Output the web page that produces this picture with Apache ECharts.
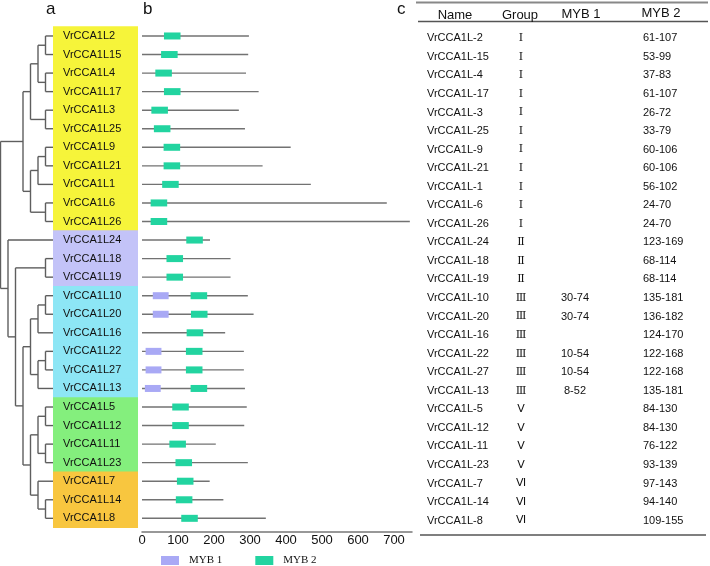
<!DOCTYPE html>
<html><head><meta charset="utf-8">
<script src="https://cdn.jsdelivr.net/npm/echarts@6/dist/echarts.min.js"></script>
<style>html,body{margin:0;padding:0;background:#fff}#c{width:710px;height:566px}</style>
</head><body><div id="c"></div>
<script>
// ---------- data ----------
const names = ['VrCCA1L2','VrCCA1L15','VrCCA1L4','VrCCA1L17','VrCCA1L3','VrCCA1L25','VrCCA1L9','VrCCA1L21','VrCCA1L1','VrCCA1L6','VrCCA1L26','VrCCA1L24','VrCCA1L18','VrCCA1L19','VrCCA1L10','VrCCA1L20','VrCCA1L16','VrCCA1L22','VrCCA1L27','VrCCA1L13','VrCCA1L5','VrCCA1L12','VrCCA1L11','VrCCA1L23','VrCCA1L7','VrCCA1L14','VrCCA1L8'];
const tableNames = ['VrCCA1L-2','VrCCA1L-15','VrCCA1L-4','VrCCA1L-17','VrCCA1L-3','VrCCA1L-25','VrCCA1L-9','VrCCA1L-21','VrCCA1L-1','VrCCA1L-6','VrCCA1L-26','VrCCA1L-24','VrCCA1L-18','VrCCA1L-19','VrCCA1L-10','VrCCA1L-20','VrCCA1L-16','VrCCA1L-22','VrCCA1L-27','VrCCA1L-13','VrCCA1L-5','VrCCA1L-12','VrCCA1L-11','VrCCA1L-23','VrCCA1L-7','VrCCA1L-14','VrCCA1L-8'];
const groups = ['Ⅰ','Ⅰ','Ⅰ','Ⅰ','Ⅰ','Ⅰ','Ⅰ','Ⅰ','Ⅰ','Ⅰ','Ⅰ','Ⅱ','Ⅱ','Ⅱ','Ⅲ','Ⅲ','Ⅲ','Ⅲ','Ⅲ','Ⅲ','Ⅴ','Ⅴ','Ⅴ','Ⅴ','Ⅵ','Ⅵ','Ⅵ'];
const proteinLength = [297,295,289,324,269,286,413,335,469,680,744,189,246,246,294,310,231,283,283,286,291,284,205,294,188,226,344];
const myb1Start = [null,null,null,null,null,null,null,null,null,null,null,null,null,null,30,30,null,10,10,8,null,null,null,null,null,null,null];
const myb1End   = [null,null,null,null,null,null,null,null,null,null,null,null,null,null,74,74,null,54,54,52,null,null,null,null,null,null,null];
const myb2Start = [61,53,37,61,26,33,60,60,56,24,24,123,68,68,135,136,124,122,122,135,84,84,76,93,97,94,109];
const myb2End   = [107,99,83,107,72,79,106,106,102,70,70,169,114,114,181,182,170,168,168,181,130,130,122,139,143,140,155];
const axisTicks = [0,100,200,300,400,500,600,700];
const tableHeader = ['Name','Group','MYB 1','MYB 2'];
// dendrogram topology (lv = node depth level, leaves at level 7)
const tree = {lv:0, c:[
  {lv:3, c:[
    {lv:4, c:[
      {lv:5, c:[{lv:6,c:['VrCCA1L2','VrCCA1L15']},{lv:6,c:['VrCCA1L4','VrCCA1L17']}]},
      {lv:6, c:['VrCCA1L3','VrCCA1L25']}
    ]},
    {lv:4, c:[
      {lv:5, c:[{lv:6,c:['VrCCA1L9','VrCCA1L21']},'VrCCA1L1']},
      {lv:6, c:['VrCCA1L6','VrCCA1L26']}
    ]}
  ]},
  {lv:1, c:[
    'VrCCA1L24',
    {lv:2, c:[
      {lv:6, c:['VrCCA1L18','VrCCA1L19']},
      {lv:3, c:[
        {lv:4, c:[
          {lv:5, c:[{lv:6,c:['VrCCA1L10','VrCCA1L20']},'VrCCA1L16']},
          {lv:5, c:[{lv:6,c:['VrCCA1L22','VrCCA1L27']},'VrCCA1L13']}
        ]},
        {lv:4, c:[
          {lv:5, c:[{lv:6,c:['VrCCA1L5','VrCCA1L12']},{lv:6,c:['VrCCA1L11','VrCCA1L23']}]},
          {lv:5, c:['VrCCA1L7',{lv:6,c:['VrCCA1L14','VrCCA1L8']}]}
        ]}
      ]}
    ]}
  ]}
]};
const leafLevel = 7;

// ---------- styles ----------
const groupColors = {'Ⅰ':'#f6f43a','Ⅱ':'#c3c3f8','Ⅲ':'#8de6f5','Ⅴ':'#84ef7d','Ⅵ':'#f8c63f'};
const C_MYB1 = '#a9a9f5', C_MYB2 = '#22d4a0';
const TOP = 26.7, H = 500.9;
const SANS = "'Liberation Sans', Arial, sans-serif";

// ---------- dendrogram layout ----------
const segs = [];
function lay(n){
  if (typeof n === 'string') return {x: leafLevel, y: names.indexOf(n)};
  const k = n.c.map(lay);
  const y = (k[0].y + k[k.length-1].y)/2;
  segs.push([n.lv, k[0].y, n.lv, k[k.length-1].y]);
  k.forEach(ch => segs.push([n.lv, ch.y, ch.x, ch.y]));
  return {x: n.lv, y: y};
}
lay(tree);

const rows = names.map((n,i)=>i);
const chart = echarts.init(document.getElementById('c'));
const hiddenX = (gi, min, max) => ({type:'value', gridIndex:gi, min, max, show:false});
const catY = gi => ({type:'category', gridIndex:gi, data:names, inverse:true, show:false});

chart.setOption({
  animation:false,
  backgroundColor:'#fff',
  grid:[
    {left:0.5, top:TOP, width:52.5, height:H},
    {left:53, top:TOP, width:85, height:H},
    {left:142, top:TOP, width:270, height:H},
    {left:416, top:TOP, width:292, height:H}
  ],
  xAxis:[
    hiddenX(0,0,leafLevel),
    hiddenX(1,0,1),
    {type:'value', gridIndex:2, min:0, max:750, interval:100, offset:4,
     axisLine:{show:true, lineStyle:{color:'#777', width:1.5}},
     axisTick:{show:false}, splitLine:{show:false},
     axisLabel:{margin:2, fontSize:13, fontFamily:SANS, color:'#111',
       formatter: v => axisTicks.indexOf(v) >= 0 ? String(v) : ''}},
    hiddenX(3,0,1)
  ],
  yAxis:[
    {type:'value', gridIndex:0, min:-0.5, max:names.length-0.5, inverse:true, show:false},
    catY(1), catY(2), catY(3)
  ],
  legend:{data:['MYB 1','MYB 2'], left:161, top:555, padding:0, icon:'rect', itemWidth:18, itemHeight:9, itemGap:33,
    textStyle:{fontFamily:"'Liberation Serif', 'Times New Roman', serif", fontSize:11, color:'#111', padding:[0,0,0,5]}},
  graphic:[
    {type:'text', left:46, top:1, style:{text:'a', font:'17px '+SANS, fill:'#111'}},
    {type:'text', left:143, top:1, style:{text:'b', font:'17px '+SANS, fill:'#111'}},
    {type:'text', left:397, top:1, style:{text:'c', font:'17px '+SANS, fill:'#111'}},
    {type:'line', shape:{x1:416, y1:2.5, x2:708, y2:2.5}, style:{stroke:'#888', lineWidth:2}},
    {type:'line', shape:{x1:418, y1:21.5, x2:708, y2:21.5}, style:{stroke:'#555', lineWidth:1.5}},
    {type:'line', shape:{x1:420, y1:535, x2:706, y2:535}, style:{stroke:'#555', lineWidth:1.5}},
    {type:'text', x:455, y:15, style:{text:tableHeader[0], font:'13px '+SANS, fill:'#111', align:'center', verticalAlign:'middle'}},
    {type:'text', x:520, y:15, style:{text:tableHeader[1], font:'13px '+SANS, fill:'#111', align:'center', verticalAlign:'middle'}},
    {type:'text', x:581, y:14, style:{text:tableHeader[2], font:'13px '+SANS, fill:'#111', align:'center', verticalAlign:'middle'}},
    {type:'text', x:661, y:13, style:{text:tableHeader[3], font:'13px '+SANS, fill:'#111', align:'center', verticalAlign:'middle'}}
  ],
  series:[
    {type:'custom', name:'tree', xAxisIndex:0, yAxisIndex:0, data:segs, encode:{x:[0,2], y:[1,3]},
     renderItem:(p,api)=>{
       const a = api.coord([api.value(0), api.value(1)]);
       const b = api.coord([api.value(2), api.value(3)]);
       return {type:'line', shape:{x1:a[0], y1:a[1], x2:b[0], y2:b[1]}, style:{stroke:'#5e5e5e', lineWidth:1.4}};
     }},
    {type:'custom', name:'bands', xAxisIndex:1, yAxisIndex:1, data:rows.map(i=>[i]), encode:{y:0},
     renderItem:(p,api)=>{
       const i = api.value(0);
       const c = api.coord([0,i]);
       const h = api.size([0,1])[1];
       const cs = p.coordSys;
       return {type:'group', children:[
         {type:'rect', shape:{x:cs.x, y:c[1]-h/2-0.4, width:cs.width, height:h+0.8}, style:{fill:groupColors[groups[i]]}},
         {type:'text', x:cs.x+10, y:c[1], style:{text:names[i], font:'11px '+SANS, fill:'#111', verticalAlign:'middle'}}
       ]};
     }},
    {type:'custom', name:'protein', xAxisIndex:2, yAxisIndex:2, data:rows.map(i=>[0, proteinLength[i], i]), encode:{x:[0,1], y:2},
     renderItem:(p,api)=>{
       const a = api.coord([api.value(0), api.value(2)]);
       const b = api.coord([api.value(1), api.value(2)]);
       return {type:'line', shape:{x1:a[0], y1:a[1], x2:b[0], y2:b[1]}, style:{stroke:'#727272', lineWidth:1.4}};
     }},
    {type:'custom', name:'MYB 1', xAxisIndex:2, yAxisIndex:2, itemStyle:{color:C_MYB1},
     data:rows.filter(i=>myb1Start[i]!=null).map(i=>[myb1Start[i], myb1End[i], i]), encode:{x:[0,1], y:2},
     renderItem:(p,api)=>{
       const a = api.coord([api.value(0), api.value(2)]);
       const b = api.coord([api.value(1), api.value(2)]);
       return {type:'rect', shape:{x:a[0], y:a[1]-3.5, width:b[0]-a[0], height:7}, style:{fill:C_MYB1}};
     }},
    {type:'custom', name:'MYB 2', xAxisIndex:2, yAxisIndex:2, itemStyle:{color:C_MYB2},
     data:rows.map(i=>[myb2Start[i], myb2End[i], i]), encode:{x:[0,1], y:2},
     renderItem:(p,api)=>{
       const a = api.coord([api.value(0), api.value(2)]);
       const b = api.coord([api.value(1), api.value(2)]);
       return {type:'rect', shape:{x:a[0], y:a[1]-3.5, width:b[0]-a[0], height:7}, style:{fill:C_MYB2}};
     }},
    {type:'custom', name:'table', xAxisIndex:3, yAxisIndex:3, data:rows.map(i=>[i]), encode:{y:0},
     renderItem:(p,api)=>{
       const i = api.value(0);
       const y = api.coord([0,i])[1] + 2.3;
       const x0 = p.coordSys.x;
       const g = groups[i];
       const serifGroup = (g==='Ⅰ'||g==='Ⅱ'||g==='Ⅲ');
       const ch = [
         {type:'text', x:x0+11, y:y, style:{text:tableNames[i], font:'11px '+SANS, fill:'#111', verticalAlign:'middle'}},
         {type:'text', x:x0+105, y:y, style:{text:g, font:(serifGroup?"11px 'DejaVu Serif', serif":"11px 'DejaVu Sans', sans-serif"), fill:'#111', align:'center', verticalAlign:'middle'}},
         {type:'text', x:x0+227, y:y, style:{text:myb2Start[i]+'-'+myb2End[i], font:'11px '+SANS, fill:'#111', verticalAlign:'middle'}}
       ];
       if (myb1Start[i]!=null) ch.push({type:'text', x:x0+159, y:y, style:{text:myb1Start[i]+'-'+myb1End[i], font:'11px '+SANS, fill:'#111', align:'center', verticalAlign:'middle'}});
       return {type:'group', children:ch};
     }}
  ]
});
</script></body></html>
